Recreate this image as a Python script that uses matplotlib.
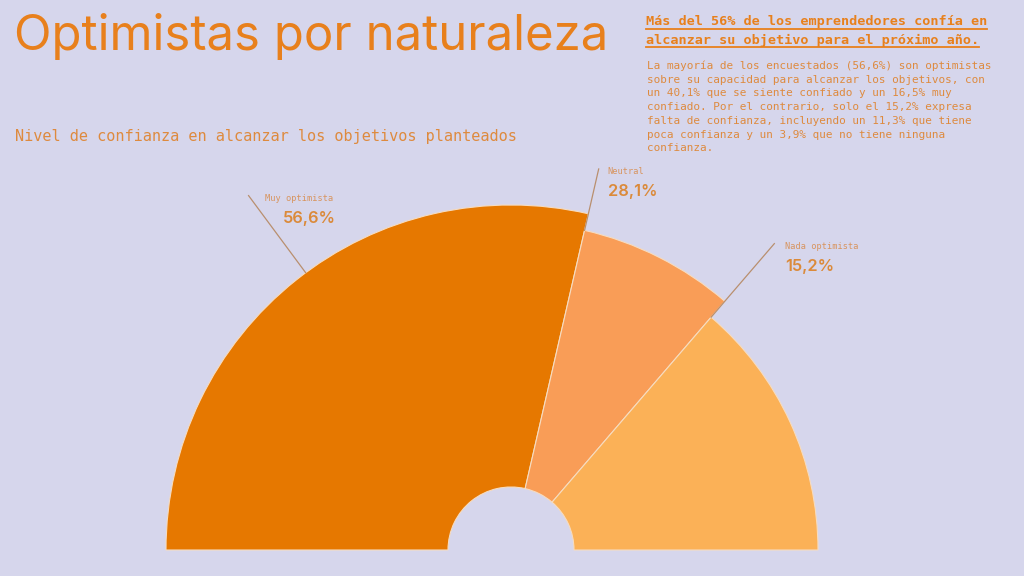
import matplotlib
matplotlib.use("Agg")
import matplotlib.pyplot as plt
from matplotlib.patches import Wedge
import numpy as np

# ---- data ----
categories = ["Muy optimista", "Neutral", "Nada optimista"]
label_values = ["56,6%", "28,1%", "15,2%"]
arc_share = [57.2, 15.4, 27.4]          # angular share of each wedge as drawn
title = "Optimistas por naturaleza"
subtitle = "Nivel de confianza en alcanzar los objetivos planteados"
heading_lines = ["Más del 56% de los emprendedores confía en",
                 "alcanzar su objetivo para el próximo año."]
body_lines = ["La mayoría de los encuestados (56,6%) son optimistas",
              "sobre su capacidad para alcanzar los objetivos, con",
              "un 40,1% que se siente confiado y un 16,5% muy",
              "confiado. Por el contrario, solo el 15,2% expresa",
              "falta de confianza, incluyendo un 11,3% que tiene",
              "poca confianza y un 3,9% que no tiene ninguna",
              "confianza."]

# ---- style ----
BG = "#D6D6EC"
colors = ["#E67800", "#F99D57", "#FBB157"]
outer_r = [345, 328, 307]
inner_r = 63
TITLE_C = "#E8801C"
TXT_C = "#DE8A3E"
LAB_C = "#D8945E"
LINE_C = "#B98F6E"
W, H = 1024, 576
cx, cy = 511, 550

fig = plt.figure(figsize=(W / 100, H / 100), dpi=100, facecolor=BG)
ax = fig.add_axes([0, 0, 1, 1])
ax.set_facecolor(BG)
ax.set_xlim(0, W)
ax.set_ylim(0, H)
ax.set_aspect("equal")
ax.axis("off")

def Y(y):
    return H - y

total = sum(arc_share)
start = 180.0
bounds = []
for i, s in enumerate(arc_share):
    span = 180.0 * s / total
    end = start - span
    w = Wedge((cx, Y(cy)), outer_r[i], end, start, width=outer_r[i] - inner_r,
              facecolor=colors[i], edgecolor="#F6DCC0", linewidth=0.8, zorder=2)
    ax.add_patch(w)
    bounds.append((start, end))
    start = end

# leader lines and labels
leader_len = [96, 46, 97]
text_dx = [16, 9, 11]
for i, cat in enumerate(categories):
    a0, a1 = bounds[i]
    ang = (a0 + a1) / 2 - 2 if i == 0 else a0
    r0 = outer_r[i]
    r1 = (outer_r[0] if i == 1 else outer_r[i]) + leader_len[i]
    t = np.deg2rad(ang)
    x0, y0 = cx + r0 * np.cos(t), Y(cy) + r0 * np.sin(t)
    x1, y1 = cx + r1 * np.cos(t), Y(cy) + r1 * np.sin(t)
    ax.plot([x0, x1], [y0, y1], color=LINE_C, lw=0.9, zorder=3)
    ax.text(x1 + text_dx[i], y1 - 3, cat, fontsize=6.2, family="DejaVu Sans Mono",
            color=LAB_C, va="center", ha="left")
    ax.text(x1 + text_dx[i] + (18 if i == 0 else 0), y1 - 23, label_values[i],
            fontsize=11.8, family="Inter", weight="semibold",
            color="#DB8A3A", va="center", ha="left")

# title and subtitle
ax.text(14, Y(50), title, fontsize=35.4, family="Inter", color=TITLE_C,
        va="baseline", ha="left")
ax.text(15, Y(136), subtitle, fontsize=11, family="DejaVu Sans Mono",
        color=TXT_C, va="center", ha="left")

# right-hand note
fig.canvas.draw()
r = fig.canvas.get_renderer()
for k, line in enumerate(heading_lines):
    yy = 22 + 18 * k
    t = ax.text(646, Y(yy), line, fontsize=9.7, family="DejaVu Sans Mono",
                weight="bold", color=TITLE_C, va="center", ha="left")
    bb = t.get_window_extent(renderer=r)
    ax.plot([646, 646 + bb.width], [Y(yy + 7), Y(yy + 7)], color=TITLE_C, lw=1.3)
for k, line in enumerate(body_lines):
    ax.text(647, Y(66 + 13.7 * k), line, fontsize=7.9, family="DejaVu Sans Mono",
            color=TXT_C, va="center", ha="left")

fig.savefig("out.png", dpi=100, facecolor=BG)
